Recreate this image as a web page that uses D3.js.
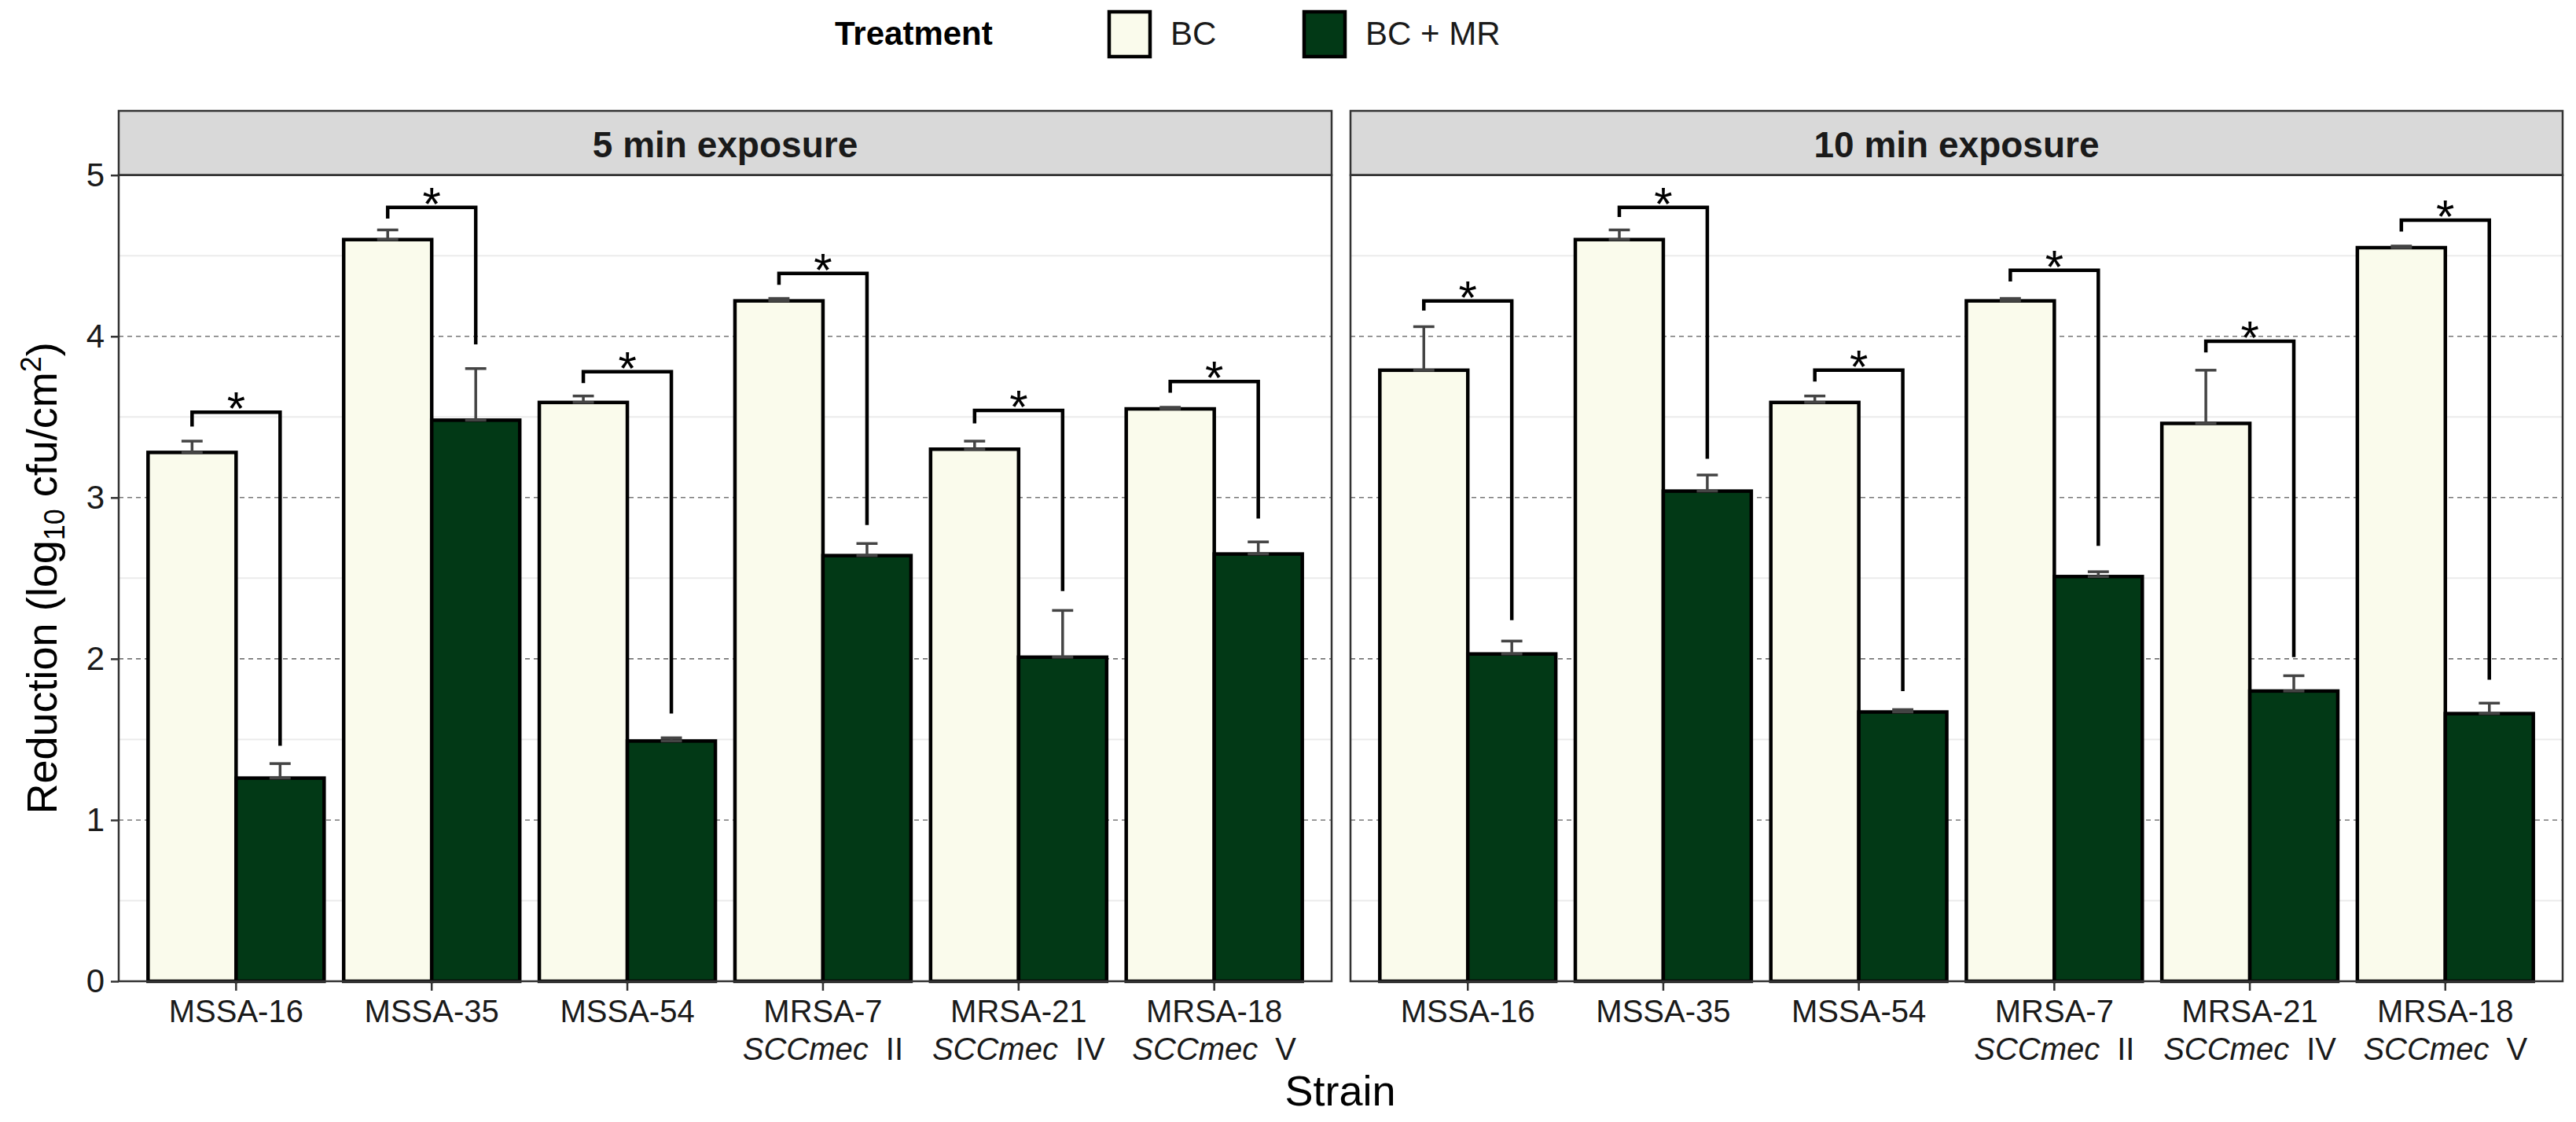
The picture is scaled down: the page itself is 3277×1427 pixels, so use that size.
<!DOCTYPE html>
<html>
<head>
<meta charset="UTF-8">
<title>Reduction by strain</title>
<script src="https://d3js.org/d3.v7.min.js"></script>
<style>
body { margin: 0; background: #fff; }
svg text { font-family: "Liberation Sans", Arial, sans-serif; }
</style>
</head>
<body>
<div id="chart"></div>
<script>
// data
var strains = ["MSSA-16", "MSSA-35", "MSSA-54", "MRSA-7", "MRSA-21", "MRSA-18"];
var strainType = ["", "", "", "II", "IV", "V"];
var treatments = ["BC", "BC + MR"];
var exposures = ["5 min exposure", "10 min exposure"];

var bc5 = [3.28, 4.60, 3.59, 4.22, 3.30, 3.55];
var bc5se = [0.07, 0.06, 0.04, 0.015, 0.05, 0.01];
var mr5 = [1.26, 3.48, 1.49, 2.64, 2.01, 2.65];
var mr5se = [0.09, 0.32, 0.02, 0.075, 0.29, 0.075];
var sig5 = [3.53, 4.80, 3.78, 4.39, 3.54, 3.72];
var sig5left = [3.44, 4.73, 3.71, 4.32, 3.46, 3.65];
var sig5right = [1.46, 3.95, 1.66, 2.83, 2.42, 2.87];

var bc10 = [3.79, 4.60, 3.59, 4.22, 3.46, 4.55];
var bc10se = [0.27, 0.06, 0.04, 0.015, 0.33, 0.01];
var mr10 = [2.03, 3.04, 1.67, 2.51, 1.80, 1.66];
var mr10se = [0.08, 0.10, 0.015, 0.03, 0.095, 0.065];
var sig10 = [4.22, 4.80, 3.79, 4.41, 3.97, 4.72];
var sig10left = [4.16, 4.74, 3.72, 4.34, 3.90, 4.65];
var sig10right = [2.24, 3.24, 1.80, 2.70, 2.01, 1.87];

var majorTicks = [0, 1, 2, 3, 4, 5];
var minorTicks = [0.5, 1.5, 2.5, 3.5, 4.5];

var colors = {"BC": "#fafbec", "BC + MR": "#023916"};

var W = 3277, H = 1427;
var yTop = 222.7, yBottom = 1248;
var panels = [
  {name: exposures[0], x0: 151, x1: 1694, bc: bc5, bcse: bc5se, mr: mr5, mrse: mr5se, sig: sig5, sl: sig5left, sr: sig5right},
  {name: exposures[1], x0: 1718, x1: 3260, bc: bc10, bcse: bc10se, mr: mr10, mrse: mr10se, sig: sig10, sl: sig10left, sr: sig10right}
];

var svg = d3.select("#chart").append("svg")
  .attr("width", W).attr("height", H);

var y = d3.scaleLinear().domain([0, 5]).range([yBottom, yTop]);

panels.forEach(function(p) {
  var g = svg.append("g");
  var x = d3.scaleBand().domain(strains).range([p.x0, p.x1])
    .paddingInner(0.1).paddingOuter(0.15);
  var xs = d3.scaleBand().domain(treatments).range([0, x.bandwidth()]);

  // strip
  g.append("rect").attr("x", p.x0).attr("y", 141).attr("width", p.x1 - p.x0).attr("height", yTop - 141)
    .attr("fill", "#d9d9d9").attr("stroke", "#333").attr("stroke-width", 2.5);
  g.append("text").attr("x", (p.x0 + p.x1) / 2).attr("y", 200).attr("text-anchor", "middle")
    .attr("font-size", 46).attr("font-weight", "bold").attr("fill", "#1a1a1a").text(p.name);

  // grid
  g.selectAll(".minor").data(minorTicks).enter().append("line")
    .attr("x1", p.x0).attr("x2", p.x1).attr("y1", d => y(d)).attr("y2", d => y(d))
    .attr("stroke", "#ebebeb").attr("stroke-width", 2);
  g.selectAll(".major").data([1, 2, 3, 4]).enter().append("line")
    .attr("x1", p.x0).attr("x2", p.x1).attr("y1", d => y(d)).attr("y2", d => y(d))
    .attr("stroke", "#777").attr("stroke-width", 1.6).attr("stroke-dasharray", "6,5");

  // bars
  var rows = [];
  strains.forEach(function(s, i) {
    rows.push({s: s, t: "BC", v: p.bc[i], se: p.bcse[i]});
    rows.push({s: s, t: "BC + MR", v: p.mr[i], se: p.mrse[i]});
  });
  g.selectAll(".bar").data(rows).enter().append("rect")
    .attr("x", d => x(d.s) + xs(d.t))
    .attr("y", d => y(d.v))
    .attr("width", xs.bandwidth())
    .attr("height", d => y(0) - y(d.v))
    .attr("fill", d => colors[d.t])
    .attr("stroke", "#000").attr("stroke-width", 4.5);

  // error bars (upper only)
  var cap = xs.bandwidth() * 0.12;
  rows.forEach(function(d) {
    var cx = x(d.s) + xs(d.t) + xs.bandwidth() / 2;
    var eg = g.append("g").attr("stroke", "#444").attr("stroke-width", 3.5);
    eg.append("line").attr("x1", cx).attr("x2", cx).attr("y1", y(d.v)).attr("y2", y(d.v + d.se));
    eg.append("line").attr("x1", cx - cap).attr("x2", cx + cap).attr("y1", y(d.v + d.se)).attr("y2", y(d.v + d.se));
    eg.append("line").attr("x1", cx - cap).attr("x2", cx + cap).attr("y1", y(d.v)).attr("y2", y(d.v));
  });

  // significance brackets
  strains.forEach(function(s, i) {
    var xl = x(s) + xs("BC") + xs.bandwidth() / 2;
    var xr = x(s) + xs("BC + MR") + xs.bandwidth() / 2;
    var path = d3.path();
    path.moveTo(xl, y(p.sl[i]));
    path.lineTo(xl, y(p.sig[i]));
    path.lineTo(xr, y(p.sig[i]));
    path.lineTo(xr, y(p.sr[i]));
    g.append("path").attr("d", path.toString()).attr("fill", "none")
      .attr("stroke", "#000").attr("stroke-width", 4.5);
    g.append("text").attr("x", (xl + xr) / 2).attr("y", y(p.sig[i]) + 16)
      .attr("text-anchor", "middle").attr("font-size", 60).attr("fill", "#000").text("*");
  });

  // panel border
  g.append("rect").attr("x", p.x0).attr("y", yTop).attr("width", p.x1 - p.x0).attr("height", yBottom - yTop)
    .attr("fill", "none").attr("stroke", "#333").attr("stroke-width", 2.5);

  // x axis
  var xa = g.append("g").attr("transform", "translate(0," + yBottom + ")")
    .call(d3.axisBottom(x).tickSize(12).tickFormat(""));
  xa.select(".domain").remove();
  xa.selectAll("line").attr("stroke", "#333").attr("stroke-width", 2.5);
  strains.forEach(function(s, i) {
    var cx = x(s) + x.bandwidth() / 2;
    g.append("text").attr("x", cx).attr("y", 1300).attr("text-anchor", "middle")
      .attr("font-size", 40).attr("fill", "#1a1a1a").text(s);
    if (strainType[i]) {
      var t = g.append("text").attr("x", cx).attr("y", 1348).attr("text-anchor", "middle")
        .attr("font-size", 40).attr("fill", "#1a1a1a");
      t.append("tspan").attr("font-style", "italic").text("SCCmec");
      t.append("tspan").attr("dx", 22).text(strainType[i]);
    }
  });
});

// y axis on the left panel
var ya = svg.append("g").attr("transform", "translate(151,0)")
  .call(d3.axisLeft(y).tickValues(majorTicks).tickSize(10).tickPadding(8).tickFormat(d3.format("d")));
ya.select(".domain").remove();
ya.selectAll("line").attr("stroke", "#333").attr("stroke-width", 2.5);
ya.selectAll("text").attr("font-size", 42).attr("fill", "#1a1a1a")
  .attr("font-family", "Liberation Sans, Arial, sans-serif");

// axis titles
var yt = svg.append("text").attr("transform", "translate(72," + ((yTop + yBottom) / 2) + ") rotate(-90)")
  .attr("text-anchor", "middle").attr("font-size", 54).attr("fill", "#000");
yt.append("tspan").text("Reduction (log");
yt.append("tspan").attr("font-size", 36).attr("dy", 10).text("10");
yt.append("tspan").attr("dy", -10).text(" cfu/cm");
yt.append("tspan").attr("font-size", 36).attr("dy", -20).text("2");
yt.append("tspan").attr("dy", 20).text(")");

svg.append("text").attr("x", 1705).attr("y", 1406).attr("text-anchor", "middle")
  .attr("font-size", 54).attr("fill", "#000").text("Strain");

// legend
svg.append("text").attr("x", 1062).attr("y", 57).attr("font-size", 42).attr("font-weight", "bold")
  .attr("fill", "#000").text("Treatment");
var legX = [1411, 1659];
treatments.forEach(function(t, i) {
  svg.append("rect").attr("x", legX[i]).attr("y", 15).attr("width", 52).attr("height", 57)
    .attr("fill", colors[t]).attr("stroke", "#000").attr("stroke-width", 4.5);
  svg.append("text").attr("x", legX[i] + 78).attr("y", 57).attr("font-size", 42)
    .attr("fill", "#1a1a1a").text(t);
});
</script>
</body>
</html>
